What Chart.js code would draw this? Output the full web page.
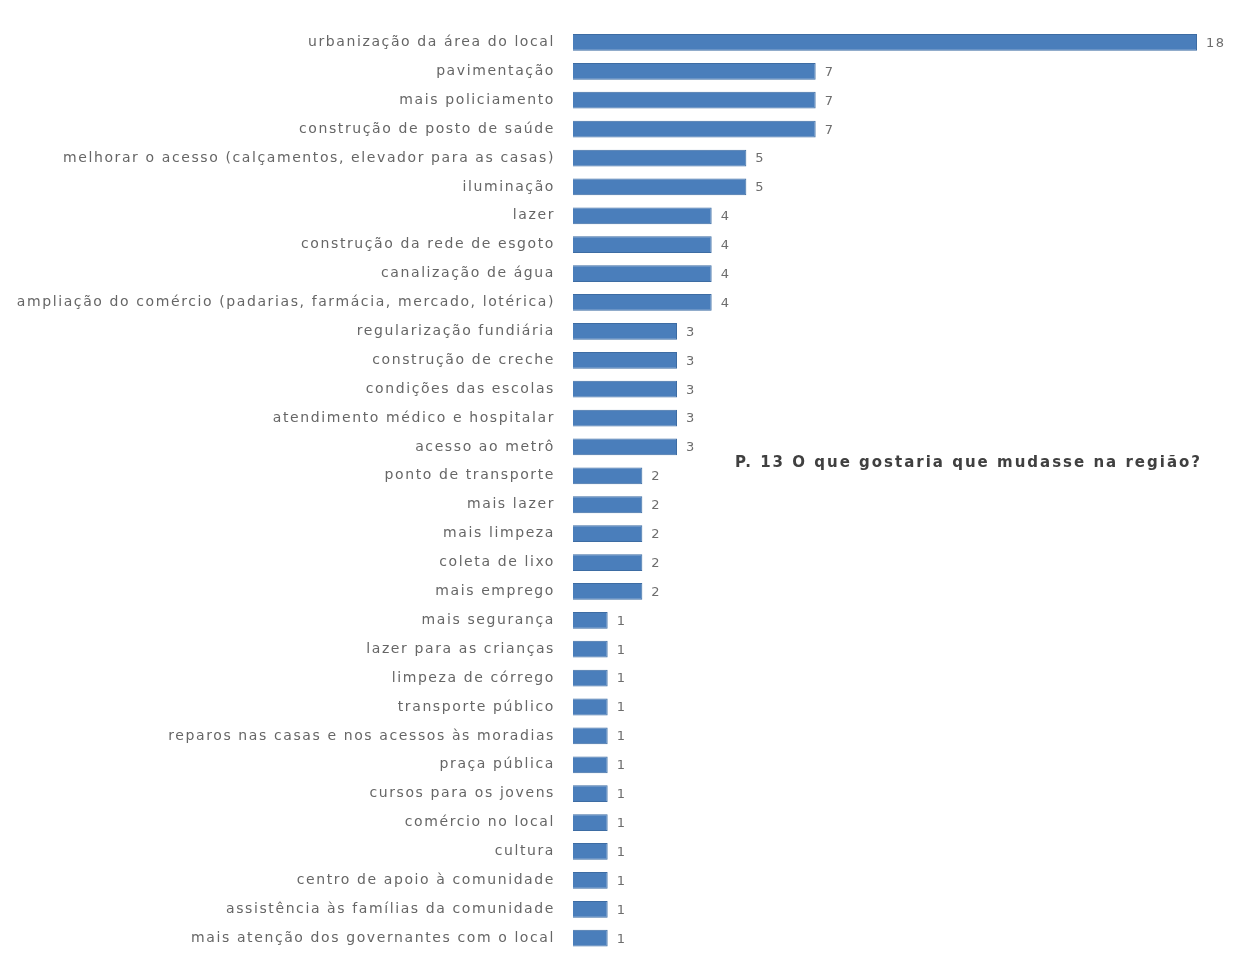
<!DOCTYPE html>
<html>
<head>
<meta charset="utf-8">
<script src="https://cdn.jsdelivr.net/npm/chart.js@4/dist/chart.umd.min.js"></script>
<style>
html,body{margin:0;padding:0;background:#fff;}
#wrap{width:1255px;height:961px;position:relative;}
</style>
</head>
<body>
<div id="wrap"><canvas id="c"></canvas></div>
<script>
const categories = [
  "urbanização da área do local",
  "pavimentação",
  "mais policiamento",
  "construção de posto de saúde",
  "melhorar o acesso (calçamentos, elevador para as casas)",
  "iluminação",
  "lazer",
  "construção da rede de esgoto",
  "canalização de água",
  "ampliação do comércio (padarias, farmácia, mercado, lotérica)",
  "regularização fundiária",
  "construção de creche",
  "condições das escolas",
  "atendimento médico e hospitalar",
  "acesso ao metrô",
  "ponto de transporte",
  "mais lazer",
  "mais limpeza",
  "coleta de lixo",
  "mais emprego",
  "mais segurança",
  "lazer para as crianças",
  "limpeza de córrego",
  "transporte público",
  "reparos nas casas e nos acessos às moradias",
  "praça pública",
  "cursos para os jovens",
  "comércio no local",
  "cultura",
  "centro de apoio à comunidade",
  "assistência às famílias da comunidade",
  "mais atenção dos governantes com o local"
];
const counts = [18,7,7,7,5,5,4,4,4,4,3,3,3,3,3,2,2,2,2,2,1,1,1,1,1,1,1,1,1,1,1,1];
const chartTitle = "P. 13 O que gostaria que mudasse na região?";

const spacing = {
  id: 'spacing',
  beforeDraw(chart) { chart.ctx.letterSpacing = '1.6px'; }
};
const valueLabels = {
  id: 'valueLabels',
  afterDatasetsDraw(chart) {
    const ctx = chart.ctx;
    const meta = chart.getDatasetMeta(0);
    ctx.save();
    ctx.font = '13px "DejaVu Sans"';
    ctx.fillStyle = '#6d6d6d';
    ctx.textAlign = 'left';
    ctx.textBaseline = 'middle';
    meta.data.forEach((el, i) => {
      ctx.fillText(String(counts[i]), el.x + 9, el.y + 1);
    });
    ctx.restore();
  }
};
const titlePlugin = {
  id: 'sideTitle',
  afterDraw(chart) {
    const ctx = chart.ctx;
    const a = chart.chartArea;
    ctx.save();
    ctx.letterSpacing = '2px';
    ctx.font = 'bold 15px "DejaVu Sans"';
    ctx.fillStyle = '#404040';
    ctx.textAlign = 'left';
    ctx.textBaseline = 'middle';
    ctx.fillText(chartTitle, a.left + 162, 463);
    ctx.restore();
  }
};

new Chart(document.getElementById('c'), {
  type: 'bar',
  data: {
    labels: categories,
    datasets: [{
      data: counts,
      backgroundColor: '#4a7ebb',
      borderColor: '#3d6ca3',
      borderWidth: 1,
      barPercentage: 0.58,
      categoryPercentage: 1.0
    }]
  },
  options: {
    indexAxis: 'y',
    responsive: true,
    maintainAspectRatio: false,
    animation: false,
    layout: { padding: { top: 28, bottom: 8, right: 58, left: 0 } },
    plugins: { legend: { display: false }, tooltip: { enabled: false }, title: { display: false } },
    scales: {
      x: { display: false, min: 0, max: 18 },
      y: {
        afterFit(scale) { scale.width = 573; },
        grid: { display: false, drawTicks: true, tickLength: 18 },
        border: { display: false },
        ticks: {
          padding: 0,
          color: '#666666',
          font: { family: '"DejaVu Sans"', size: 14 },
          autoSkip: false
        }
      }
    }
  },
  plugins: [spacing, valueLabels, titlePlugin]
});
</script>
</body>
</html>
